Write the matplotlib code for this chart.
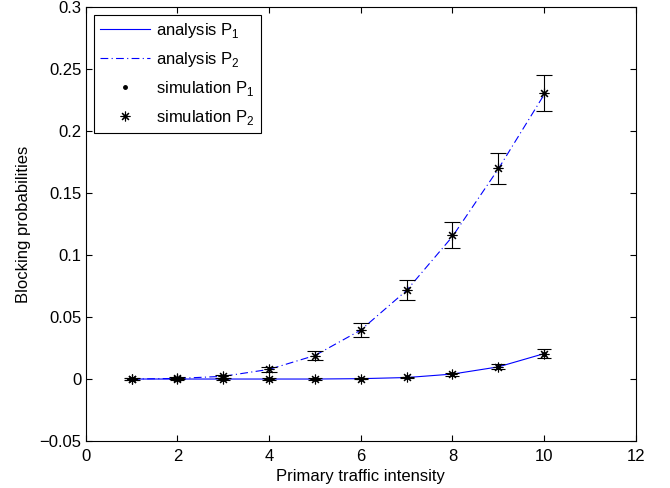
import matplotlib
matplotlib.use("Agg")
import matplotlib.pyplot as plt

plt.rcParams['font.family'] = ['Liberation Sans', 'DejaVu Sans']
plt.rcParams['font.size'] = 12
plt.rcParams['mathtext.fontset'] = 'custom'
plt.rcParams['mathtext.rm'] = 'Liberation Sans'

intensity = [1, 2, 3, 4, 5, 6, 7, 8, 9, 10]

analysis_p1 = [0, 0, 0, 0, 0, 0.0003, 0.0012, 0.004, 0.0098, 0.0205]
analysis_p2 = [0, 0.0005, 0.0022, 0.0078, 0.019, 0.0395, 0.0715, 0.115, 0.1695, 0.2295]

sim_p1 = [0, 0, 0, 0, 0, 0.0003, 0.0013, 0.004, 0.0099, 0.0205]
sim_p1_err = [0.0005, 0.0005, 0.0005, 0.0005, 0.0005, 0.0005, 0.0007, 0.0012, 0.002, 0.0035]
sim_p2 = [0, 0.0005, 0.0022, 0.008, 0.0188, 0.0395, 0.0718, 0.116, 0.170, 0.2304]
sim_p2_err = [0.0005, 0.0008, 0.0012, 0.002, 0.0036, 0.0055, 0.008, 0.0103, 0.0124, 0.0145]

asterisk = (8, 2, 0)

fig = plt.figure(figsize=(6.7, 4.88), dpi=100)
ax = fig.add_axes([0.128, 0.0963, 0.821, 0.889])

ax.plot(intensity, analysis_p1, '-', color='blue', lw=0.8, label='analysis P$_\\mathrm{1}$')
ax.plot(intensity, analysis_p2, color='blue', lw=0.8, linestyle=(0, (7, 3, 1, 3)), label='analysis P$_\\mathrm{2}$')

ax.errorbar(intensity, sim_p1, yerr=sim_p1_err, fmt='none', ecolor='black', elinewidth=0.8, capsize=5, capthick=0.8)
ax.errorbar(intensity, sim_p2, yerr=sim_p2_err, fmt='none', ecolor='black', elinewidth=0.8, capsize=6, capthick=0.8)
ax.plot(intensity, sim_p1, ls='none', marker=asterisk, ms=7, mew=0.8, color='black')
ax.plot(intensity, sim_p1, ls='none', marker='.', ms=5, color='black', label='simulation P$_\\mathrm{1}$')
ax.plot(intensity, sim_p2, ls='none', marker=asterisk, ms=7, mew=0.8, color='black', label='simulation P$_\\mathrm{2}$')

ax.set_xlim(0, 12)
ax.set_ylim(-0.05, 0.3)
ax.set_xticks([0, 2, 4, 6, 8, 10, 12])
ax.set_yticks([-0.05, 0, 0.05, 0.1, 0.15, 0.2, 0.25, 0.3])
ax.set_yticklabels(['\u22120.05', '0', '0.05', '0.1', '0.15', '0.2', '0.25', '0.3'])
ax.tick_params(direction='in', top=True, right=True, length=4, width=0.8, pad=3)
ax.tick_params(axis='x', pad=6)
for s in ax.spines.values():
    s.set_linewidth(0.8)

ax.set_xlabel('Primary traffic intensity', labelpad=3)
ax.set_ylabel('Blocking probabilities', labelpad=6)

leg = ax.legend(loc='upper left', bbox_to_anchor=(0.0145, 0.982), borderaxespad=0,
                fancybox=False, edgecolor='black', framealpha=1, handlelength=3.0,
                labelspacing=0.6, borderpad=0.35, handletextpad=0.4)
leg.get_frame().set_linewidth(0.8)

fig.savefig('out.png', dpi=100)
